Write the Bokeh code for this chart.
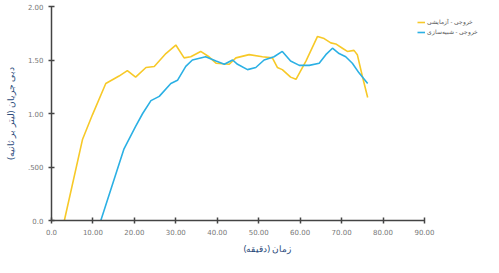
from bokeh.plotting import figure
from bokeh.models import Legend, LegendItem, FixedTicker, Range1d
from bokeh.embed import file_html
from bokeh.resources import INLINE

# Experimental outflow (yellow)
exp_t = [3.1, 7.5, 9.9, 13.1, 16.3, 18.3, 20.3, 22.8, 24.8, 27.6, 30.0, 32.0, 33.6, 36.0,
         38.0, 39.7, 42.9, 44.5, 47.7, 50.9, 53.3, 54.5, 55.7, 57.7, 59.0, 61.4, 64.2,
         65.8, 67.4, 68.6, 70.2, 71.4, 73.0, 73.8, 75.0, 76.3]
exp_q = [0.0, 0.76, 0.99, 1.28, 1.35, 1.40, 1.34, 1.43, 1.44, 1.56, 1.64, 1.52, 1.53, 1.58,
         1.53, 1.47, 1.46, 1.52, 1.55, 1.53, 1.52, 1.43, 1.41, 1.34, 1.32, 1.49, 1.72,
         1.70, 1.66, 1.65, 1.61, 1.58, 1.59, 1.55, 1.35, 1.15]

# Simulated outflow (blue)
sim_t = [11.9, 17.5, 20.3, 22.0, 24.0, 26.0, 28.8, 30.4, 32.4, 34.0, 37.2, 39.7, 41.7,
         43.7, 44.9, 47.3, 49.3, 51.3, 53.7, 55.7, 57.7, 59.8, 62.2, 64.6, 66.2, 67.8,
         69.4, 71.0, 72.6, 74.2, 76.3]
sim_q = [0.0, 0.67, 0.88, 1.00, 1.12, 1.16, 1.28, 1.31, 1.44, 1.50, 1.53, 1.49, 1.46,
         1.50, 1.46, 1.41, 1.43, 1.50, 1.53, 1.58, 1.49, 1.45, 1.45, 1.47, 1.55, 1.61,
         1.56, 1.53, 1.47, 1.38, 1.28]

x_ticks = [0, 10, 20, 30, 40, 50, 60, 70, 80, 90]
x_tick_labels = ["0.0", "10.00", "20.00", "30.00", "40.00", "50.00", "60.00", "70.00", "80.00", "90.00"]
y_ticks = [0, 0.5, 1.0, 1.5, 2.0]
y_tick_labels = ["0.0", ".500", "1.00", "1.50", "2.00"]

legend_labels = ["خروجی - آزمایشی", "خروجی - شبیه‌سازی"]
x_title = "زمان (دقیقه)"
y_title = "دبی جریان (لیتر بر ثانیه)"

p = figure(width=483, height=257, output_backend="svg", toolbar_location=None,
           x_range=Range1d(0, 104.25), y_range=Range1d(0, 2.0),
           min_border_left=51, min_border_right=0, min_border_top=6, min_border_bottom=26)
p.outline_line_color = None
p.xgrid.visible = False
p.ygrid.visible = False

r1 = p.line(exp_t, exp_q, line_color="#f7c928", line_width=1.6)
r2 = p.line(sim_t, sim_q, line_color="#2bb0e4", line_width=1.6)

for ax in (p.xaxis[0], p.yaxis[0]):
    ax.axis_line_color = "#444444"
    ax.axis_line_width = 1.5
    ax.major_tick_line_color = "#444444"
    ax.major_tick_line_width = 1.5
    ax.major_tick_in = 3
    ax.major_tick_out = 3
    ax.minor_tick_line_color = None
    ax.major_label_text_font_size = "7px"
    ax.major_label_text_color = "#777777"
    ax.major_label_text_font = "DejaVu Sans"
    ax.axis_label_text_font_size = "9px"
    ax.axis_label_text_font_style = "normal"
    ax.axis_label_text_color = "#2a4a7a"
    ax.axis_label_text_font = "Noto Sans"

p.xaxis.bounds = (0, 90)
p.xaxis.ticker = FixedTicker(ticks=x_ticks)
p.xaxis.major_label_overrides = {t: l for t, l in zip(x_ticks, x_tick_labels)}
p.yaxis.ticker = FixedTicker(ticks=y_ticks)
p.yaxis.major_label_overrides = {t: l for t, l in zip(y_ticks, y_tick_labels)}
p.xaxis.axis_label = x_title
p.yaxis.axis_label = y_title
p.xaxis.axis_label_standoff = 4
p.yaxis.axis_label_standoff = 8

legend = Legend(items=[LegendItem(label=legend_labels[0], renderers=[r1]),
                       LegendItem(label=legend_labels[1], renderers=[r2])],
                location=(366, 184), background_fill_alpha=0, border_line_color=None,
                label_text_font_size="6px", label_text_color="#555555",
                label_text_font="Noto Sans", glyph_width=8, glyph_height=6,
                label_height=6, spacing=2, padding=1, margin=0, label_standoff=2)
p.add_layout(legend, "center")

open("out.html", "w").write(file_html(p, INLINE))
